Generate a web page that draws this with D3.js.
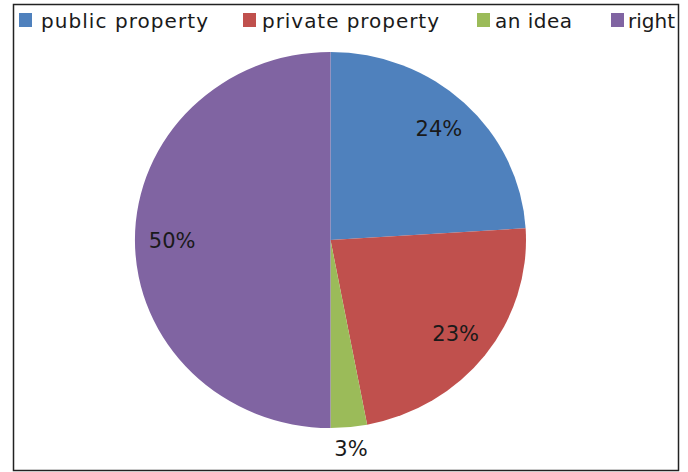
<!DOCTYPE html>
<html>
<head>
<meta charset="utf-8">
<script src="https://cdn.jsdelivr.net/npm/d3@7"></script>
<style>
  html, body { margin: 0; padding: 0; background: #fff; }
  svg { display: block; }
</style>
</head>
<body>
<svg id="chart" width="688" height="472"></svg>
<script>
// Share of answers per category
const categories = ["public property", "private property", "an idea", "right"];
const values = [24, 23, 3, 50];
const colors = ["#4f81bd", "#c0504d", "#9bbb59", "#8064a2"];

const svg = d3.select("#chart");
const FONT = "'DejaVu Sans', Verdana, sans-serif";

// outer frame
svg.append("rect")
  .attr("x", 13.5).attr("y", 4.5)
  .attr("width", 665).attr("height", 466)
  .attr("fill", "#fff")
  .attr("stroke", "#222").attr("stroke-width", 1.5);

// pie geometry (slightly wider than tall)
const cx = 330.5, cy = 240, rx = 195.5, ry = 188;
const r = ry;
const sx = rx / ry;

const pie = d3.pie().value(d => d).sort(null);
const arcs = pie(values);
const arc = d3.arc().innerRadius(0).outerRadius(r);

const g = svg.append("g")
  .attr("transform", `translate(${cx},${cy}) scale(${sx},1)`);

g.selectAll("path.slice")
  .data(arcs)
  .join("path")
  .attr("class", "slice")
  .attr("d", arc)
  .attr("fill", (d, i) => colors[i]);

// percentage labels: inside for large slices, just outside for small ones
const inner = d3.arc().innerRadius(r * 0.81).outerRadius(r * 0.81);
const outer = d3.arc().innerRadius(r + 21).outerRadius(r + 21);
const labels = svg.append("g").attr("transform", `translate(${cx},${cy})`);
labels.selectAll("text")
  .data(arcs)
  .join("text")
  .attr("transform", d => {
    const [x, y] = (d.data < 5 ? outer : inner).centroid(d);
    return `translate(${x * sx},${y + 7.5})`;
  })
  .attr("text-anchor", "middle")
  .attr("font-family", FONT)
  .attr("font-size", 21)
  .attr("fill", "#1a1a1a")
  .text(d => d.data + "%");

// legend across the top
const legendX = [19, 243, 477, 611];
const legendTextX = [22, 19, 18, 17];
const legendTextW = [167, 177, 77, 47];
const legend = svg.append("g");
const items = legend.selectAll("g")
  .data(categories)
  .join("g")
  .attr("transform", (d, i) => `translate(${legendX[i]},13)`);
items.append("rect")
  .attr("width", 13).attr("height", 14)
  .attr("fill", (d, i) => colors[i]);
items.append("text")
  .attr("x", (d, i) => legendTextX[i])
  .attr("y", 15)
  .attr("font-family", FONT)
  .attr("font-size", 20)
  .attr("fill", "#1a1a1a")
  .attr("textLength", (d, i) => legendTextW[i])
  .attr("lengthAdjust", "spacing")
  .text(d => d);
</script>
</body>
</html>
